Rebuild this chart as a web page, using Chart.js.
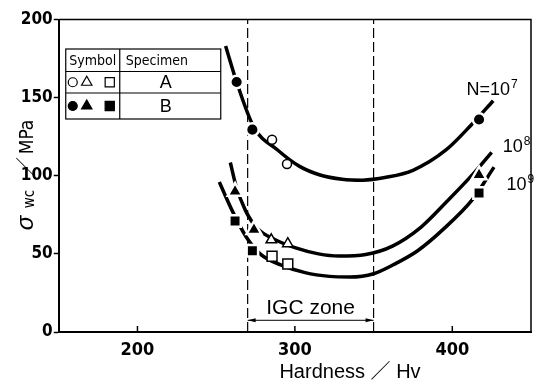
<!DOCTYPE html>
<html>
<head>
<meta charset="utf-8">
<script src="https://cdn.jsdelivr.net/npm/chart.js@4.4.1/dist/chart.umd.min.js"></script>
<style>
  html, body { margin: 0; padding: 0; background: #fff; }
  #wrap { width: 542px; height: 385px; }
</style>
</head>
<body>
<div id="wrap"><canvas id="chart" width="542" height="385"></canvas></div>
<script>
// axis ranges and ticks
const xRange = [150, 450];
const yRange = [0, 200];
const xTicks = [200, 300, 400];
const yTicks = [0, 50, 100, 150, 200];
const igcZone = [270, 350];

// test results, specimen A (open) and B (filled)
const n7HardA = [285.5, 295];
const n7StressA = [123, 107.5];
const n7HardB = [263, 273, 417];
const n7StressB = [160, 129.5, 136];
const n8HardA = [285, 295.5];
const n8StressA = [59, 56.5];
const n8HardB = [262, 274, 417];
const n8StressB = [90, 65.5, 100.5];
const n9HardA = [285.5, 295.5];
const n9StressA = [48.5, 43.5];
const n9HardB = [262, 273, 417];
const n9StressB = [71, 52, 89];

// fitted curves
const fit7Hard = [256, 263, 274, 289, 303, 316, 330, 343, 358, 375, 396, 412, 426];
const fit7Stress = [183, 160, 131, 116.5, 106, 100.5, 97.8, 97.2, 99, 103.5, 116.5, 132.5, 148];
const fit8Hard = [259, 262.5, 268.5, 276, 287.5, 300, 315, 328, 345, 362, 380, 397, 414, 425];
const fit8Stress = [108.5, 94, 78, 66.5, 59, 54, 50, 48.6, 49.6, 55, 67, 84, 102, 115];
const fit9Hard = [252, 260, 269, 278.5, 291, 306.5, 322, 335, 350, 362.5, 378, 394, 413, 426.5];
const fit9Stress = [96, 78, 61, 49.5, 43, 38, 35.6, 35.2, 37.3, 43, 52, 65.5, 85, 105.5];

const cycleLabels = ['7', '8', '9'];

const narrow = '"Liberation Sans Narrow", "DejaVu Sans Condensed", "Roboto Condensed", sans-serif';
const plain = '"Liberation Sans", Arial, "Noto Sans CJK JP", sans-serif';

function pts(xs, ys) {
    return xs.map(function(v, i) { return {x: v, y: ys[i]}; });
}

function curve(xs, ys) {
    return {
        type: 'scatter', data: pts(xs, ys), showLine: true,
        borderColor: '#000', borderWidth: 3.5, pointRadius: 0, pointHoverRadius: 0,
        cubicInterpolationMode: 'monotone', order: 1
    };
}

function markers(xs, ys, style, filled, r) {
    return {
        type: 'scatter', data: pts(xs, ys), showLine: false,
        pointStyle: style, pointRadius: r, pointHoverRadius: r,
        backgroundColor: filled ? '#000' : '#fff',
        borderColor: filled ? '#fff' : '#000',
        borderWidth: filled ? 2.5 : 1.5, order: 0
    };
}

function zoneLine(v) {
    return {
        type: 'scatter', data: [{x: v, y: yRange[0]}, {x: v, y: yRange[1]}], showLine: true,
        borderColor: '#000', borderWidth: 1.2, borderDash: [10, 4], pointRadius: 0, order: 2
    };
}

const extras = {
    id: 'extras',
    afterDraw(chart) {
        const ctx = chart.ctx, a = chart.chartArea, x = chart.scales.x, y = chart.scales.y;
        ctx.save();
        ctx.strokeStyle = '#000';
        ctx.fillStyle = '#000';

        // top and right frame
        ctx.lineWidth = 1.5;
        ctx.beginPath();
        ctx.moveTo(a.left, a.top);
        ctx.lineTo(a.right, a.top);
        ctx.lineTo(a.right, a.bottom);
        ctx.stroke();

        // x ticks point inward
        xTicks.forEach(function(v) {
            const px = x.getPixelForValue(v);
            ctx.beginPath();
            ctx.moveTo(px, a.bottom);
            ctx.lineTo(px, a.bottom - 6);
            ctx.stroke();
        });

        // IGC zone arrow
        const x0 = x.getPixelForValue(igcZone[0]), x1 = x.getPixelForValue(igcZone[1]);
        const ay = y.getPixelForValue(7.5);
        ctx.lineWidth = 1;
        ctx.beginPath();
        ctx.moveTo(x0, ay);
        ctx.lineTo(x1, ay);
        ctx.stroke();
        ctx.beginPath();
        ctx.moveTo(x0, ay); ctx.lineTo(x0 + 8, ay - 2); ctx.lineTo(x0 + 8, ay + 2); ctx.closePath();
        ctx.moveTo(x1, ay); ctx.lineTo(x1 - 8, ay - 2); ctx.lineTo(x1 - 8, ay + 2); ctx.closePath();
        ctx.fill();
        ctx.font = '21px ' + plain;
        ctx.textAlign = 'center';
        ctx.textBaseline = 'middle';
        ctx.fillText('IGC zone', x.getPixelForValue(310), y.getPixelForValue(15.5));

        // cycle labels at curve ends
        const lab = [
            {pre: 'N=10', hx: 409, sy: 156},
            {pre: '10', hx: 432, sy: 120},
            {pre: '10', hx: 434.5, sy: 95.5}
        ];
        ctx.textAlign = 'left';
        ctx.textBaseline = 'alphabetic';
        lab.forEach(function(l, i) {
            const px = x.getPixelForValue(l.hx), py = y.getPixelForValue(l.sy) + 7;
            ctx.font = '18px ' + plain;
            ctx.fillText(l.pre, px, py);
            const w = ctx.measureText(l.pre).width;
            ctx.font = '12px ' + plain;
            ctx.fillText(cycleLabels[i], px + w + 1, py - 7);
        });

        // symbol table
        const tl = a.left + 7, tt = a.top + 29.5, tr = tl + 155, tc = tl + 54;
        const rows = [tt, tt + 22.5, tt + 44, tt + 70];
        ctx.lineWidth = 1.2;
        ctx.strokeRect(tl, tt, tr - tl, rows[3] - tt);
        ctx.beginPath();
        ctx.moveTo(tl, rows[1]); ctx.lineTo(tr, rows[1]);
        ctx.moveTo(tl, rows[2]); ctx.lineTo(tr, rows[2]);
        ctx.moveTo(tc, tt); ctx.lineTo(tc, rows[3]);
        ctx.stroke();
        ctx.font = '14px ' + narrow;
        ctx.textBaseline = 'middle';
        ctx.textAlign = 'center';
        ctx.fillText('Symbol', (tl + tc) / 2, (rows[0] + rows[1]) / 2 + 1);
        ctx.textAlign = 'left';
        ctx.fillText('Specimen', tc + 6, (rows[0] + rows[1]) / 2 + 1);
        ctx.textAlign = 'center';
        ctx.font = '18px ' + plain;
        ctx.fillText('A', tl + 100, (rows[1] + rows[2]) / 2 + 1);
        ctx.fillText('B', tl + 100, (rows[2] + rows[3]) / 2 + 1);
        const styles = [['circle', 4.5, 7], ['triangle', 6, 21], ['rect', 6.5, 44]];
        [1, 2].forEach(function(r) {
            const cy = (rows[r] + rows[r + 1]) / 2;
            styles.forEach(function(s) {
                ctx.fillStyle = r === 1 ? '#fff' : '#000';
                ctx.strokeStyle = '#000';
                Chart.helpers.drawPoint(ctx, {pointStyle: s[0], radius: s[1], borderWidth: 1.4, rotation: 0}, tl + s[2], cy);
            });
        });
        ctx.fillStyle = '#000';

        // axis titles
        ctx.textAlign = 'center';
        ctx.textBaseline = 'middle';
        ctx.font = '20px ' + plain;
        ctx.fillText('Hardness \uFF0F Hv', 350, 372);

        ctx.translate(26, 178);
        ctx.rotate(-Math.PI / 2);
        ctx.textBaseline = 'alphabetic';
        ctx.font = 'italic 24px ' + plain;
        ctx.fillText('\u03C3', -45, 7);
        ctx.font = '15px ' + narrow;
        ctx.fillText('wc', -21, 8);
        ctx.font = '20px ' + plain;
        ctx.fillText('\uFF0F', 11, 7);
        ctx.font = '19px ' + narrow;
        ctx.fillText('MPa', 41, 7);
        ctx.restore();
    }
};

new Chart(document.getElementById('chart'), {
    type: 'scatter',
    data: {
        datasets: [
            markers(n7HardA, n7StressA, 'circle', false, 4.5),
            markers(n7HardB, n7StressB, 'circle', true, 6.3),
            markers(n8HardA, n8StressA, 'triangle', false, 6),
            markers(n8HardB, n8StressB, 'triangle', true, 8.5),
            markers(n9HardA, n9StressA, 'rect', false, 7),
            markers(n9HardB, n9StressB, 'rect', true, 8.1),
            curve(fit7Hard, fit7Stress),
            curve(fit8Hard, fit8Stress),
            curve(fit9Hard, fit9Stress),
            zoneLine(igcZone[0]),
            zoneLine(igcZone[1])
        ]
    },
    options: {
        responsive: false,
        animation: false,
        layout: { padding: { top: 19.5, right: 2, left: 0, bottom: 0 } },
        plugins: { legend: { display: false }, tooltip: { enabled: false } },
        scales: {
            x: {
                type: 'linear', min: xRange[0], max: xRange[1],
                afterBuildTicks: function(s) { s.ticks = xTicks.map(function(v) { return {value: v}; }); },
                afterFit: function(s) { s.height = 53; },
                grid: { display: false, drawTicks: false },
                border: { display: true, width: 2, color: '#000' },
                ticks: { color: '#000', padding: 8, font: { family: narrow, size: 18, weight: 'bold' } }
            },
            y: {
                type: 'linear', min: yRange[0], max: yRange[1],
                afterBuildTicks: function(s) { s.ticks = yTicks.map(function(v) { return {value: v}; }); },
                afterFit: function(s) { s.width = 58.75; },
                grid: { display: true, drawOnChartArea: false, drawTicks: true, tickLength: 5, tickWidth: 1.5, tickColor: '#000' },
                border: { display: true, width: 2, color: '#000' },
                ticks: { color: '#000', padding: 1, font: { family: narrow, size: 17, weight: 'bold' } }
            }
        }
    },
    plugins: [extras]
});
</script>
</body>
</html>
